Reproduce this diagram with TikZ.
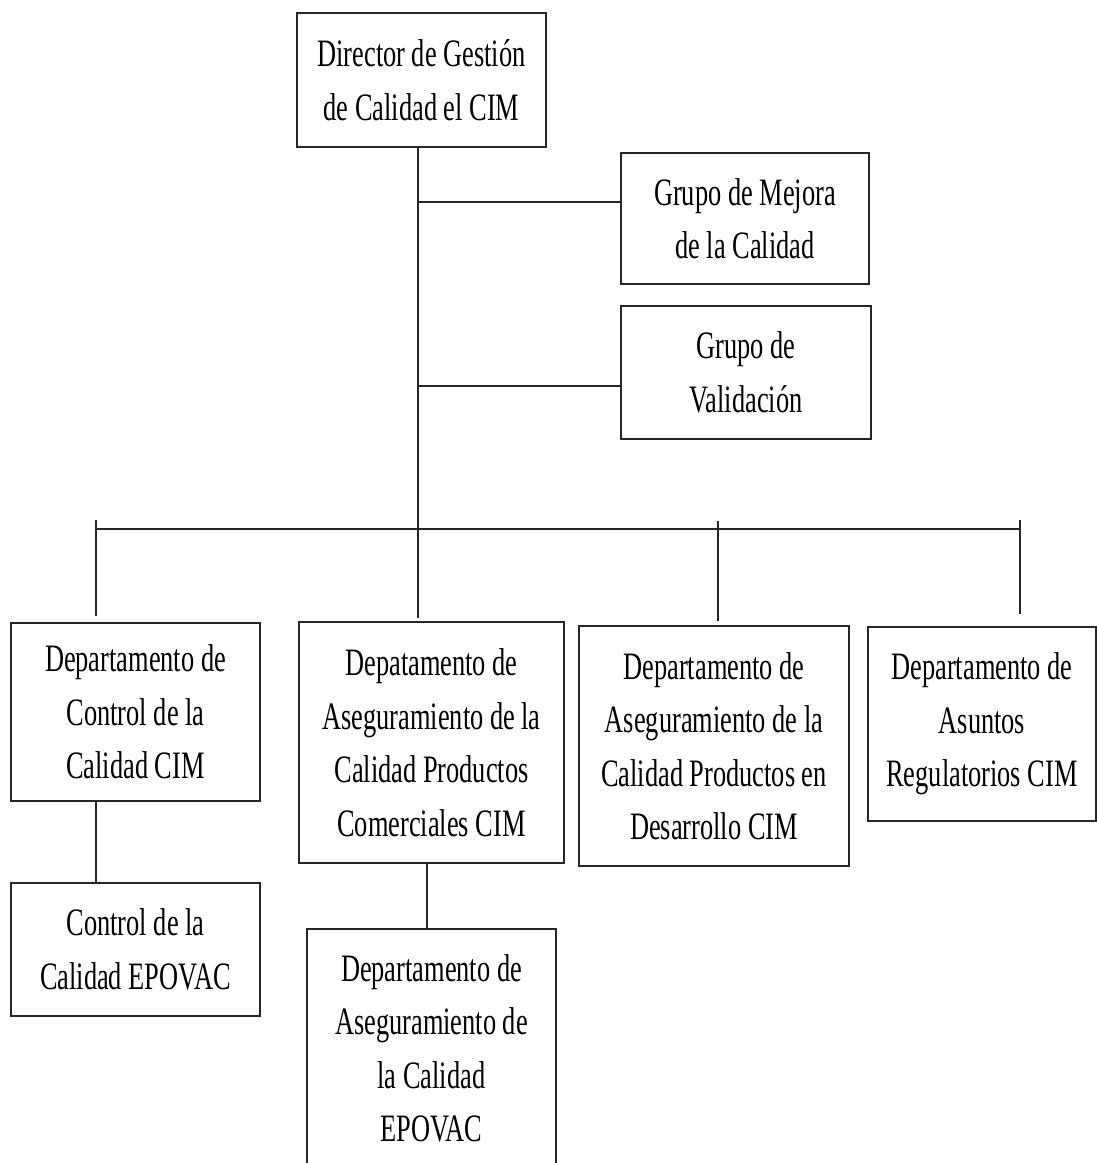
\documentclass[tikz,border=0pt]{standalone}
\usepackage{fontspec}
\setmainfont[FakeStretch=0.68]{Liberation Serif}
\begin{document}
\begin{tikzpicture}[x=1pt,y=-1pt,
  box/.style={draw=black!85, line width=2pt, align=center, inner sep=0pt,
    font=\fontsize{38.8}{53.5}\selectfont},
  conn/.style={draw=black!85, line width=1.8pt}]
\useasboundingbox (0,0) rectangle (1097,1163);
\clip (0,0) rectangle (1097,1163);
% boxes
\node[box, minimum width=249pt, minimum height=134pt] (dir) at (421.5,80) {Director de Gestión\\de Calidad el CIM};
\node[box, minimum width=248pt, minimum height=131pt] (mej) at (745,218.5) {Grupo de Mejora\\de la Calidad};
\node[box, minimum width=250pt, minimum height=133pt] (val) at (746,372.5) {Grupo de\\Validación};
\node[box, minimum width=249pt, minimum height=178pt] (d1) at (135.5,712) {Departamento de\\Control de la\\Calidad CIM};
\node[box, minimum width=265pt, minimum height=241pt] (d2) at (431.5,742.5) {Depatamento de\\Aseguramiento de la\\Calidad Productos\\Comerciales CIM};
\node[box, minimum width=270pt, minimum height=240pt] (d3) at (714,746) {Departamento de\\Aseguramiento de la\\Calidad Productos en\\Desarrollo CIM};
\node[box, minimum width=228pt, minimum height=194pt] (d4) at (982,724) {Departamento de\\Asuntos\\Regulatorios CIM};
\node[box, minimum width=249pt, minimum height=133pt] (d5) at (135.5,949.5) {Control de la\\Calidad EPOVAC};
\node[box, minimum width=249pt, minimum height=239pt] (d6) at (431.5,1048.5) {Departamento de\\Aseguramiento de\\la Calidad\\EPOVAC};
% junction coordinates
\coordinate (tr) at (418,147);
\coordinate (m0) at (418,202);
\coordinate (v0) at (418,386);
\coordinate (b2) at (418,529);
\coordinate (b1) at (96,529);
\coordinate (b3) at (718,529);
\coordinate (b4) at (1020,529);
\coordinate (t1) at (96,520);
\coordinate (t3) at (718,521);
\coordinate (t4) at (1020,520);
\coordinate (e1) at (96,616);
\coordinate (e2) at (418,618);
\coordinate (e3) at (718,621);
\coordinate (e4) at (1020,614);
\coordinate (s1) at (96,801);
\coordinate (s2) at (427,863);
% connectors
\draw[conn] (tr) -- (b2) -- (e2);
\draw[conn] (m0) -- (m0 -| mej.west);
\draw[conn] (v0) -- (v0 -| val.west);
\draw[conn] (b1) -- (b4);
\draw[conn] (t1) -- (e1);
\draw[conn] (t3) -- (e3);
\draw[conn] (t4) -- (e4);
\draw[conn] (s1) -- (s1 |- d5.north);
\draw[conn] (s2) -- (s2 |- d6.north);
\end{tikzpicture}
\end{document}
